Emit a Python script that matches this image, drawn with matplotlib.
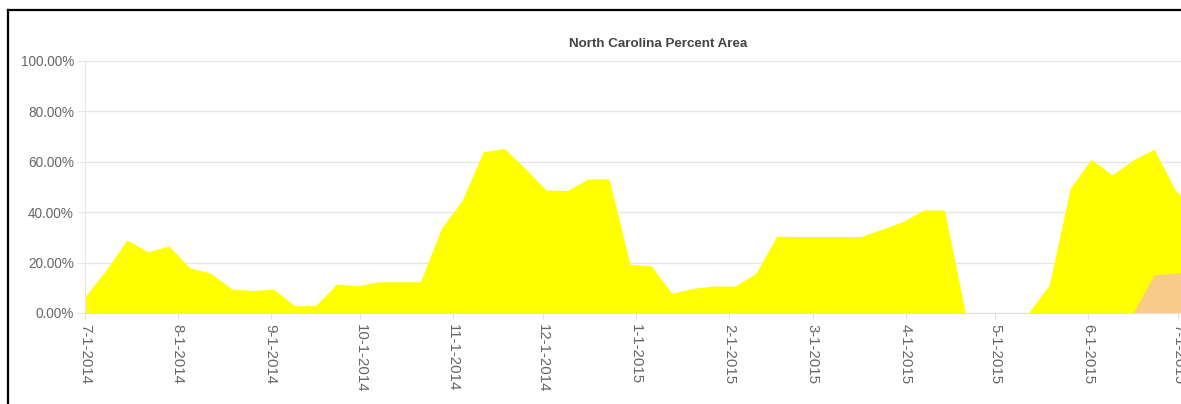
import datetime as dt
import matplotlib
matplotlib.use('Agg')
from matplotlib import pyplot as plt
import matplotlib.dates as mdates
from matplotlib.lines import Line2D
from matplotlib.ticker import FuncFormatter

# weekly values starting 7-1-2014
start = dt.date(2014, 7, 1)
d0_pct = [6.5, 17, 29, 24.3, 26.6, 17.9, 15.8, 9.5, 8.9, 9.5,
          2.9, 2.9, 11.5, 10.8, 12.4, 12.4, 12.4, 33.6, 44.8, 64,
          65.3, 57.4, 48.8, 48.6, 53.2, 53.2, 19.3, 18.8, 7.8, 9.8,
          10.7, 10.7, 15.7, 30.5, 30.3, 30.3, 30.3, 30.3, 33.2, 36.2,
          40.9, 40.8, 0, 0, 0, 0, 11.1, 49.5, 61, 54.8,
          60.7, 65, 49, 40]
d1_pct = [0] * 50 + [0, 15.1, 15.8, 16.2]
dates = [start + dt.timedelta(weeks=i) for i in range(len(d0_pct))]
month_ticks = [dt.date(2014 + (m // 12), m % 12 + 1, 1) for m in range(6, 19)]

fig = plt.figure(figsize=(11.81, 4.04), dpi=100)
ax = fig.add_axes([85 / 1181, (404 - 313) / 404, 1 - 85 / 1181, 252 / 404])

ax.fill_between(dates, d0_pct, 0, color='#ffff00', linewidth=0)
ax.fill_between(dates, d1_pct, 0, color='#f9cb88', linewidth=0)

ax.set_ylim(0, 100)
ax.set_xlim(start, dt.date(2015, 7, 2))
ax.set_yticks([0, 20, 40, 60, 80, 100])
ax.yaxis.set_major_formatter(FuncFormatter(lambda v, p: '%.2f%%' % v))
ax.set_xticks(month_ticks)
ax.xaxis.set_major_formatter(FuncFormatter(
    lambda v, p: '%d-%d-%d' % (mdates.num2date(v).month, mdates.num2date(v).day, mdates.num2date(v).year)))

ax.grid(axis='y', color='#e6e6e6', linewidth=1)
ax.set_axisbelow(True)
for s in ['top', 'right']:
    ax.spines[s].set_visible(False)
ax.spines['left'].set_color('#e6e6e6')
ax.spines['bottom'].set_color('#e0e0e0')

ax.tick_params(axis='y', length=6, color='#e6e6e6', pad=2, labelsize=9.8, labelcolor='#666666')
ax.tick_params(axis='x', length=4, color='#e0e0e0', pad=4, labelsize=10.8, labelcolor='#666666',
               labelrotation=270)
for lbl in ax.get_xticklabels() + ax.get_yticklabels():
    lbl.set_fontfamily('Liberation Sans')
for lbl in ax.get_xticklabels():
    lbl.set_va('top')
    lbl.set_ha('center')

fig.text(658 / 1181, 1 - 44 / 404, 'North Carolina Percent Area', ha='center', va='center',
         fontsize=9.6, fontweight='bold', color='#444444', family='Liberation Sans')

# black frame on top and left
fig.add_artist(Line2D([8 / 1181, 1], [1 - 10 / 404, 1 - 10 / 404], color='black', linewidth=1.6))
fig.add_artist(Line2D([8 / 1181, 8 / 1181], [0, 1 - 10 / 404], color='black', linewidth=1.6))

plt.savefig('out.png', dpi=100)
